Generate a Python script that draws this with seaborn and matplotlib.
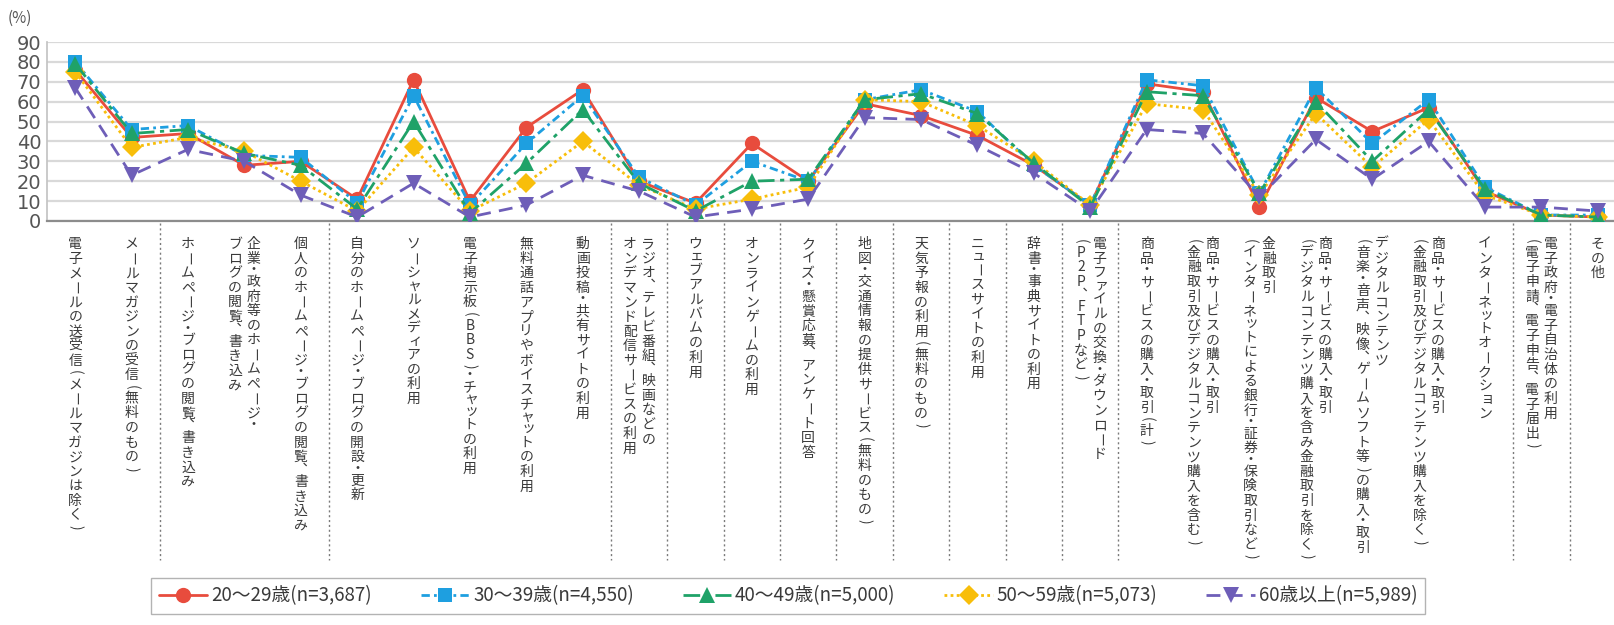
import numpy as np
import pandas as pd
import matplotlib
matplotlib.use("Agg")
import matplotlib.pyplot as plt
import matplotlib.transforms as mtransforms
import seaborn as sns

# categories (vertical labels, one string per column; first column is drawn on the right)
categories = [
    ["電子メールの送受信(メールマガジンは除く)"],
    ["メールマガジンの受信(無料のもの)"],
    ["ホームページ・ブログの閲覧、書き込み"],
    ["企業・政府等のホームページ・", "ブログの閲覧、書き込み"],
    ["個人のホームページ・ブログの閲覧、書き込み"],
    ["自分のホームページ・ブログの開設・更新"],
    ["ソーシャルメディアの利用"],
    ["電子掲示板(BBS)・チャットの利用"],
    ["無料通話アプリやボイスチャットの利用"],
    ["動画投稿・共有サイトの利用"],
    ["ラジオ、テレビ番組、映画などの", "オンデマンド配信サービスの利用"],
    ["ウェブアルバムの利用"],
    ["オンラインゲームの利用"],
    ["クイズ・懸賞応募、アンケート回答"],
    ["地図・交通情報の提供サービス(無料のもの)"],
    ["天気予報の利用(無料のもの)"],
    ["ニュースサイトの利用"],
    ["辞書・事典サイトの利用"],
    ["電子ファイルの交換・ダウンロード", "(P2P、FTPなど)"],
    ["商品・サービスの購入・取引(計)"],
    ["商品・サービスの購入・取引", "(金融取引及びデジタルコンテンツ購入を含む)"],
    ["金融取引", "(インターネットによる銀行・証券・保険取引など)"],
    ["商品・サービスの購入・取引", "(デジタルコンテンツ購入を含み金融取引を除く)"],
    ["デジタルコンテンツ", "(音楽・音声、映像、ゲームソフト等)の購入・取引"],
    ["商品・サービスの購入・取引", "(金融取引及びデジタルコンテンツ購入を除く)"],
    ["インターネットオークション"],
    ["電子政府・電子自治体の利用", "(電子申請、電子申告、電子届出)"],
    ["その他"],
]

series_names = ["20〜29歳(n=3,687)", "30〜39歳(n=4,550)", "40〜49歳(n=5,000)",
                "50〜59歳(n=5,073)", "60歳以上(n=5,989)"]

age20 = [76, 42, 44, 28, 30, 11, 71, 10, 47, 66, 20, 9, 39, 20, 59, 53, 43, 28, 8, 69, 65, 7, 62, 45, 57, 15, 3, 2]
age30 = [80, 46, 48, 33, 32, 9, 63, 8, 39, 63, 22, 8, 30, 20, 61, 66, 55, 28, 8, 71, 68, 14, 67, 39, 61, 17, 3, 3]
age40 = [79, 44, 46, 34, 28, 6, 50, 4, 29, 56, 19, 5, 20, 21, 61, 64, 54, 29, 7, 65, 63, 14, 60, 30, 56, 16, 3, 2]
age50 = [75, 37, 42, 35, 20, 5, 37, 5, 19, 40, 18, 6, 11, 17, 61, 60, 48, 30, 8, 59, 56, 13, 54, 27, 51, 13, 3, 2]
age60 = [67, 23, 36, 30, 13, 2, 19, 2, 8, 23, 15, 2, 6, 11, 52, 51, 38, 24, 5, 46, 44, 12, 41, 21, 40, 7, 7, 5]

# separators between label groups (after these category indices)
sep_after = [1, 4, 9, 10, 11, 12, 13, 14, 15, 16, 17, 18, 25, 26]

colors = ["#E84C3D", "#1E9FE0", "#1FA268", "#F8BE0A", "#6E5EB8"]
markers = ["o", "s", "^", "D", "v"]
msizes = [11, 10, 11, 10, 11]
styles = ["-", (0, (3, 1.5, 1, 1.5)), (0, (6, 2, 1.5, 2)), (0, (1, 1.2)), (0, (5, 3))]
zorders = [3, 4, 6, 5, 7]

sns.set_theme(style="white")
plt.rcParams["font.family"] = ["Noto Sans CJK JP", "DejaVu Sans"]

W, H = 1614, 625
fig = plt.figure(figsize=(W / 100, H / 100), dpi=100)
ax = fig.add_axes([47 / W, 1 - 221 / H, (1626 - 47) / W, (221 - 42) / H])

x = np.arange(len(categories))
all_series = [age20, age30, age40, age50, age60]
for name, vals, c, m, ms, ls, z in zip(series_names, all_series, colors, markers, msizes, styles, zorders):
    df = pd.DataFrame({"x": x, "y": vals})
    sns.lineplot(data=df, x="x", y="y", ax=ax, color=c, marker=m, markersize=ms,
                 markeredgewidth=0, linestyle=ls, linewidth=2, label=name, zorder=z)

ax.set_xlim(-0.5, len(categories) - 0.5)
ax.set_ylim(0, 90)
ax.set_yticks(range(0, 91, 10))
ax.set_xticks([])
ax.set_xlabel("")
ax.set_ylabel("")
ax.grid(axis="y", color="#d9d9d9", linewidth=1.6)
ax.set_axisbelow(True)
for s in ["top", "right"]:
    ax.spines[s].set_visible(False)
ax.spines["left"].set_color("#c4c4c4")
ax.spines["bottom"].set_color("#8c8c8c")
ax.spines["bottom"].set_linewidth(1.6)
ax.tick_params(axis="y", labelsize=14, labelcolor="#555555", pad=4, length=0)
for t in ax.get_yticklabels():
    t.set_fontfamily(["DejaVu Sans"])

fig.text(8 / W, 1 - 18 / H, "(%)", fontsize=11, color="#555555", va="center")

# vertical (tategaki) labels, one glyph at a time
tr = mtransforms.blended_transform_factory(ax.transData, fig.transFigure)
rotate_chars = set("ー()（）〜")
half_chars = set("()（）・")
small_chars = set("ッャュョィェォァゃゅょっ")
pitch = 14.6
y0 = 244
col_gap = 0.33
for i, cols in enumerate(categories):
    n = len(cols)
    for j, line in enumerate(cols):
        xc = i + (n - 1) * col_gap / 2 - j * col_gap
        pos = 0.0
        for ch in line:
            if ch in half_chars:
                adv = 0.6
            elif ch == "、":
                adv = 0.7
            elif ch in small_chars:
                adv = 0.8
            else:
                adv = 1.0
            yy = y0 + (pos + adv / 2 - 0.5) * pitch
            pos += adv
            dx = 0
            rot = -90 if ch in rotate_chars else 0
            glyph = ch
            if ch in small_chars:
                dx = 0.03
                yy -= 1
            if ch == "、":
                glyph = "\ufe11"  # vertical ideographic comma
            ax.text(xc + dx, 1 - yy / H, glyph, transform=tr, fontsize=10, color="#3a3a3a",
                    ha="center", va="center", rotation=rot, clip_on=False)

for k in sep_after:
    ax.plot([k + 0.5, k + 0.5], [1 - 223 / H, 1 - 560 / H], transform=tr, color="#7a7a7a",
            linestyle=(0, (1.5, 2)), linewidth=1, clip_on=False)

ax.legend(loc="center", bbox_to_anchor=(788 / W, 1 - 596 / H), bbox_transform=fig.transFigure,
          ncol=5, frameon=True, fontsize=13.5, handlelength=2.6, handletextpad=0.2,
          columnspacing=2.6, borderpad=0.4, fancybox=False, edgecolor="#a0a0a0",
          labelcolor="#3a3a3a")

fig.savefig("out.png", dpi=100)
